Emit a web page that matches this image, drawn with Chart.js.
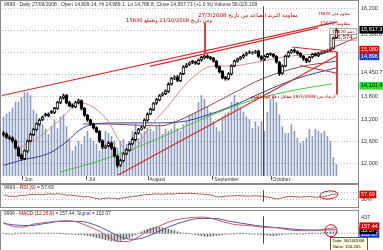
<!DOCTYPE html>
<html><head><meta charset="utf-8">
<script src="https://cdn.jsdelivr.net/npm/chart.js@4/dist/chart.umd.min.js"></script>
<style>
html,body{margin:0;padding:0;background:#fff;width:383px;height:250px;overflow:hidden;position:relative}
canvas{position:absolute;left:0}
</style></head><body>
<canvas id="main" width="383" height="184" style="top:0;width:383px;height:184px"></canvas>
<canvas id="rsi" width="383" height="24" style="top:184px;width:383px;height:24px"></canvas>
<canvas id="macd" width="383" height="40" style="top:210px;width:383px;height:40px"></canvas>
<script>
// ---------------- DATA ----------------
const monthTickIdx = [6.5, 27.8, 48.2, 69.8, 89.2];
const monthNames = ['Jun', 'Jul', 'August', 'September', 'October'];

const opens = [12820,12790,12700,12690,12610,12420,12220,12130,12330,12610,
12780,12920,13060,13190,13330,13290,13400,13380,13490,13650,
13770,13840,13650,13580,13530,13640,13700,13490,13300,13180,
13060,12970,12870,12610,12430,12480,12560,12420,12200,11950,
12070,12270,12360,12530,12640,12820,12930,12980,13170,13340,
13460,13640,13720,13850,13890,13950,14150,14310,14340,14240,
14430,14620,14680,14760,14750,14700,14800,14860,14910,14880,
14850,14770,14620,14490,14340,14290,14420,14640,14770,14830,
14880,14940,15020,14990,15010,15040,14890,14820,14890,14970,
14950,14900,14730,14440,14640,14900,15010,15070,15030,14980,
14900,14830,14760,14880,14960,14920,14980,15000,15040,15060,
15110,15400];
const highs = [12860,12830,12750,12720,12640,12450,12260,12370,12640,12820,
12950,13100,13210,13290,13360,13370,13430,13520,13680,13810,
13880,13860,13680,13610,13680,13740,13720,13510,13330,13200,
13090,12990,12890,12630,12500,12590,12580,12440,12220,12110,
12290,12400,12560,12690,12840,12950,13010,13210,13370,13500,
13650,13760,13860,13920,13990,14180,14330,14370,14380,14460,
14650,14700,14750,14790,14770,14830,14900,14930,14940,14900,
14870,14790,14640,14510,14360,14460,14670,14800,14850,14900,
14960,15010,15050,15030,15060,15070,14920,14930,14980,14990,
14970,14920,14760,14670,14930,15040,15090,15100,15050,15000,
14920,14850,14900,14980,14990,15010,15030,15060,15080,15140,
15420,15660];
const lows = [12740,12680,12640,12570,12390,12180,12090,12100,12300,12580,
12750,12890,13030,13160,13270,13260,13350,13350,13460,13620,
13740,13610,13530,13500,13500,13610,13450,13270,13140,13030,
12930,12830,12560,12400,12400,12450,12380,12170,11900,11920,
12040,12230,12330,12500,12610,12790,12900,12950,13140,13310,
13430,13600,13690,13820,13860,13920,14120,14270,14210,14210,
14400,14590,14650,14700,14680,14670,14770,14830,14840,14810,
14740,14580,14450,14290,14250,14260,14390,14610,14740,14800,
14850,14910,14970,14960,14980,14870,14790,14790,14860,14920,
14870,14710,14380,14410,14610,14870,14980,15000,14950,14870,
14790,14730,14740,14850,14900,14890,14950,14980,15010,15030,
15090,15380];
const closes = [12783,12705,12679,12600,12418,12209,12131,12339,12600,12783,
12914,13070,13175,13253,13305,13331,13383,13488,13644,13775,
13827,13644,13566,13540,13644,13697,13488,13305,13175,13070,
12966,12861,12600,12444,12470,12548,12418,12209,11948,12078,
12261,12365,12522,12653,12809,12914,12966,13175,13331,13462,
13618,13723,13827,13879,13958,14140,14297,14323,14245,14427,
14610,14662,14714,14741,14714,14793,14871,14897,14871,14845,
14767,14610,14480,14323,14297,14427,14636,14767,14819,14871,
14923,14975,15002,15002,15028,14897,14819,14897,14949,14949,
14897,14741,14427,14636,14897,15002,15054,15028,14975,14897,
14819,14767,14871,14949,14923,14975,15002,15028,15054,15106,
15393,15610];
// volume, millions
const volumes = [61,64,66,70,76,76,81,86,86,83,
68,64,59,53,48,43,51,58,49,61,
63,51,38,26,31,36,33,41,46,39,
36,33,26,38,46,44,41,36,29,36,
38,33,36,46,53,39,44,46,49,48,
46,51,53,43,48,46,48,56,49,46,
53,56,63,64,66,76,83,79,71,66,
56,50,46,61,64,66,76,83,76,70,
66,61,58,49,56,51,56,46,66,79,
84,76,63,51,44,44,53,46,39,34,
36,39,48,41,48,46,44,46,41,36,
19,12];

// moving averages: [dayIndex, value]
const maPink = [[5.5,12418],[12.2,12731],[18.8,13175],[25.5,13644],[28.2,13592],[32.2,13383],[35.5,13070],[38.2,12653],[41.2,12339],[43.8,12392],[48.8,12992],[54.5,13514],[58.8,13958],[63.8,14375],[69.8,14636],[75.5,14636],[84.5,14741],[94.5,14897],[102.2,14949],[110.8,15028]];
const maMaroon = [[26.5,13070],[32.2,13070],[42.2,13044],[52.2,13018],[58.8,13175],[65.5,13436],[75.5,13853],[86.5,14297],[98.8,14610],[110.8,14767]];
const maBlue = [[0,11948],[5.5,12078],[15.5,12287],[21.2,12600],[25.5,12914],[30.5,13070],[38.8,13096],[48.8,13096],[58.8,13122],[68.8,13331],[78.8,13644],[88.8,14010],[98.8,14323],[110.8,14584]];
const maGreen = [[18.8,11765],[32.2,12078],[45.5,12470],[55.5,12809],[65.5,13175],[82.2,13697],[98.8,14010],[109.5,14150]];

// drawn trend lines: [dayIndex, value]
const trendUpper1 = [[-0.5,13838],[111.2,15830]];
const trendUpper2 = [[48.8,14625],[104.8,15670]];
const trendSupport = [[38.2,11686],[111.2,14914]];
const trendTriangle = [[96.2,15150],[111.2,15019]];
const pointerA = [[98.8,14651],[111.2,14441]];
const pointerB = [[111.2,15019],[111.2,13864]];
const pointerC = [[67.2,15806],[67.2,14992]];
const pointerD = [[117.8,15412],[108.8,15097]];
const pointerGray = [[108.8,15490],[108.8,15097]];

const mainTickVals = [12000,12600,13200,13800,14450.7,15500.8,16200];
const mainTickLabels = ['12,000','12,600','13,200','13,800','14,450.7','15,500.8','16,200'];
const mainGridVals = [12000,12600,13200,13800,14400,15000,15600,16200];
const mainMarkVals = [15617.3,15080,14896,14101.4];
const mainMarkLabels = ['15,617.3','15,080','14,896','14,101.4'];

const rsiPts = [[0,56],[1,52],[2,46],[3,48],[4,44],[5,50],[6,53],[7,51],[8,55],[9,58],[10,57],[12,59],[13,56],[15,61],[17,59],[18,62],[20,58],[21,52],[22,55],[24,50],[26,46],[27,43],[28,45],[30,38],[32,30],[33,33],[35,37],[36,34],[37,36],[38,31],[39,35],[41,40],[43,45],[45,49],[47,56],[49,58],[51,61],[53,59],[55,62],[57,60],[58,64],[60,63],[62,65],[64,62],[66,60],[68,57],[69,55],[70,50],[71,45],[72,43],[74,47],[76,49],[78,51],[80,49],[82,48],[84,50],[86,47],[88,42],[89,40],[91,31],[92,33],[93,38],[95,46],[97,44],[99,42],[101,44],[102,46],[104,41],[106,43],[107,45],[108,50],[109,55],[110,60],[111,58]];
const rsiTickVals = [30];
const rsiTickLabels = ['30%'];
const rsiGridVals = [30,70];
const rsiMarkVals = [57.69];
const rsiMarkLabels = ['57.69'];

const macdPts = [[0,304],[2.2,209],[6.5,171],[9.8,247],[15.5,304],[21.2,342],[24.5,304],[27.8,209],[32.2,57],[35.5,-114],[38.8,-209],[41.2,-209],[44.5,-114],[47.8,57],[52.2,209],[56.5,342],[62.2,418],[66.5,437],[71.2,361],[76.5,247],[82.2,209],[86.5,171],[91.2,152],[95.5,95],[100.5,76],[105.5,95],[109.8,152],[111,157]];
const signalPts = [[0,266],[3.8,228],[8.8,209],[13.8,266],[19.5,323],[25.5,323],[30.5,228],[34.8,76],[38.8,-76],[43.2,-152],[47.2,-95],[51.2,38],[55.5,190],[60.5,323],[65.5,399],[70.5,399],[75.5,323],[81.5,247],[86.5,190],[92.2,152],[97.2,114],[102.2,95],[107.2,95],[111,102]];
const macdHist = [10,-8,-15,-12,5,15,20,18,12,8,15,20,18,12,10,8,12,15,10,5,0,-5,-10,-15,-20,-25,-30,-35,
-45,-60,-80,-100,-120,-140,-160,-175,-190,-200,-195,-180,-160,-130,-100,-70,
-30,10,50,80,110,140,160,170,165,150,130,110,90,70,50,30,15,
5,0,-10,-25,-40,-55,-65,-75,-70,-60,-50,-40,-30,-20,-15,-10,-5,0,5,5,
0,-5,-10,-15,-20,-25,-30,-40,-50,-55,-45,-35,-25,-15,-10,-5,0,-5,-10,
-5,0,5,5,10,15,20,25,35,45,50,55];
const macdTickVals = [437];
const macdTickLabels = ['437'];
const macdGridVals = [0];
const macdMarkVals = [195,90,-10];
const macdMarkLabels = ['157.44','55.37','102.07'];

const cursorIdx = 86.5;
const titleMain = '9999 - Daily 27/09/2008 : Open 14,809.14, Hi 14,989.1, Lo 14,788.8, Close 14,957.71 (+1.0 %) Volume 58,020,109';

const annTexts = [
  ['مقاومة الترند الصاعد من تاريخ 27/3/2008', 98.2, 16003, 100],
  ['ومن تاريخ 21/10/2008 وتقطع 15830', 69.5, 15858, 86],
  ['مقاوم على 15830', 115.5, 16042, 32],
  ['مقاومة 15670', 115.5, 15780, 30],
  ['ارتداد من 18/7/2008 مقابل دعم قوي القوي', 110.5, 13812, 85]
];
const annBoxes = [
  ['دعم 15620', 108.8, 15648, 117.8, 15490],
  ['15,574', 108.8, 15490, 117.8, 15334]
];

// ---------------- STYLE ----------------
const FONT = '"Liberation Sans", Arial, sans-serif';
const AR_FONT = '"DejaVu Sans", sans-serif';
const X_MIN = -0.5, X_MAX = 118.2;
const RED = '#d42a2a';
const mainMarkBg = ['#000000','#e00000','#1c3fc8','#2ee02e'];
const mainMarkFg = ['#ffffff','#ffffff','#ffffff','#000000'];
const macdMarkBg = ['#e00000','#000000','#1c3fc8'];

function fitText(ctx, segs, x, y, w, align, family, rtl) {
  const fam = family || FONT;
  ctx.save();
  ctx.direction = rtl ? 'rtl' : 'ltr';
  ctx.font = '10px ' + fam;
  let total = 0;
  for (const s of segs) total += ctx.measureText(s[0]).width;
  const size = 10 * w / total;
  ctx.font = size.toFixed(2) + 'px ' + fam;
  ctx.textBaseline = 'middle';
  if (segs.length === 1) {
    ctx.textAlign = align || 'left';
    ctx.fillStyle = segs[0][1];
    ctx.fillText(segs[0][0], x, y);
  } else {
    ctx.textAlign = 'left';
    let cx = x;
    for (const s of segs) { ctx.fillStyle = s[1]; ctx.fillText(s[0], cx, y); cx += ctx.measureText(s[0]).width; }
  }
  ctx.restore();
}
function drawCursor(chart) {
  const {ctx, chartArea: a, scales: {x}} = chart;
  const cx = Math.round(x.getPixelForValue(cursorIdx)) + 0.5;
  ctx.save(); ctx.strokeStyle = '#454545'; ctx.lineWidth = 1;
  ctx.beginPath(); ctx.moveTo(cx, a.top); ctx.lineTo(cx, a.bottom); ctx.stroke(); ctx.restore();
}
function frame(chart, top, bottom) {
  const ctx = chart.ctx;
  ctx.save(); ctx.strokeStyle = '#8a8a8a'; ctx.lineWidth = 1;
  ctx.strokeRect(0.5, top + 0.5, 358, bottom - top - 1); ctx.restore();
}
function yAxis(tickVals, tickLabels, gridVals, markVals, markLabels, markBg, markFg, min, max) {
  const all = Array.from(new Set([...tickVals, ...gridVals, ...markVals])).sort((a, b) => a - b);
  return {
    type: 'linear', position: 'right', min, max,
    afterFit: s => { s.width = 25; },
    afterBuildTicks: s => { s.ticks = all.map(v => ({value: v})); },
    grid: { drawTicks: false, lineWidth: 1,
      color: c => (c.tick && gridVals.includes(c.tick.value)) ? '#bcbcbc' : 'rgba(0,0,0,0)' },
    border: { display: false, dash: [1, 2] },
    ticks: {
      autoSkip: false, padding: 3, font: {size: 5.5, family: FONT},
      callback: v => { let k = markVals.indexOf(v); if (k >= 0) return markLabels[k]; k = tickVals.indexOf(v); return k >= 0 ? tickLabels[k] : ''; },
      color: c => { const k = markVals.indexOf(c.tick ? c.tick.value : NaN); return k >= 0 ? (markFg ? markFg[k] : '#ffffff') : '#333333'; },
      showLabelBackdrop: c => markVals.includes(c.tick ? c.tick.value : NaN),
      backdropColor: c => { const k = markVals.indexOf(c.tick ? c.tick.value : NaN); return k >= 0 ? markBg[k] : 'rgba(0,0,0,0)'; },
      backdropPadding: {x: 1.5, y: 0.5}
    }
  };
}
function lineDs(data, color, width, order, extra) {
  return Object.assign({type: 'line', data, borderColor: color, borderWidth: width, pointRadius: 0, fill: false, order, xAxisID: 'x', yAxisID: 'y'}, extra || {});
}
const baseOpts = {animation: false, responsive: false, maintainAspectRatio: false, events: [],
  plugins: {legend: {display: false}, tooltip: {enabled: false}}};

// ---------------- MAIN PANEL ----------------
const mainPlugin = {
  id: 'mainDecor',
  afterDatasetsDraw(chart) {
    const {ctx, scales: {x: xs, y: ys}} = chart;
    drawCursor(chart);
    ctx.save();
    for (const b of annBoxes) {
      const x1 = xs.getPixelForValue(b[1]), y1 = ys.getPixelForValue(b[2]);
      const x2 = xs.getPixelForValue(b[3]), y2 = ys.getPixelForValue(b[4]);
      ctx.strokeStyle = '#9a9a9a'; ctx.lineWidth = 0.8;
      ctx.strokeRect(x1, y1, x2 - x1, y2 - y1);
      const ar = /[\u0600-\u06FF]/.test(b[0]);
      fitText(ctx, [[b[0], '#a00000']], (x1 + x2) / 2, (y1 + y2) / 2, (x2 - x1) - (ar ? 4 : 8), 'center', ar ? AR_FONT : FONT, ar);
    }
    for (const t of annTexts) {
      fitText(ctx, [[t[0], '#c40000']], xs.getPixelForValue(t[1]), ys.getPixelForValue(t[2]), t[3], 'right', AR_FONT, true);
    }
    ctx.restore();
  },
  afterDraw(chart) {
    frame(chart, 0, 184);
    fitText(chart.ctx, [[titleMain, '#333333']], 4, 4.5, 254, 'left');
  }
};
new Chart(document.getElementById('main'), {
  type: 'bar',
  data: { datasets: [
    {label: 'Volume', data: volumes.map((v, i) => ({x: i, y: v})), yAxisID: 'yv', xAxisID: 'x', backgroundColor: '#8c9dbd', barThickness: 1, grouped: false, order: 10},
    lineDs(maGreen, '#4cc04c', 1, 6, {cubicInterpolationMode: 'monotone'}),
    lineDs(maBlue, '#33409a', 1, 6, {cubicInterpolationMode: 'monotone'}),
    lineDs(maMaroon, '#8a4a5a', 1, 6, {cubicInterpolationMode: 'monotone'}),
    lineDs(maPink, '#d09090', 1, 5, {cubicInterpolationMode: 'monotone'}),
    {label: 'Wick', data: closes.map((c, i) => ({x: i, y: [lows[i], highs[i]]})), yAxisID: 'y', xAxisID: 'x', backgroundColor: '#000000', barThickness: 1, grouped: false, order: 3},
    {label: 'Body', data: closes.map((c, i) => ({x: i, y: [opens[i], c]})), yAxisID: 'y', xAxisID: 'x',
      backgroundColor: c => closes[c.dataIndex] >= opens[c.dataIndex] ? '#ffffff' : '#000000',
      borderColor: '#000000', borderWidth: 1, borderSkipped: false, barThickness: 3, grouped: false, order: 2},
    lineDs(trendUpper1, RED, 1.2, 1),
    lineDs(trendUpper2, RED, 1.2, 1),
    lineDs(trendSupport, RED, 1.2, 1),
    lineDs(trendTriangle, RED, 1, 1),
    lineDs(pointerA, RED, 1, 1),
    lineDs(pointerB, RED, 1, 1),
    lineDs(pointerC, RED, 1, 1),
    lineDs(pointerD, RED, 1, 1),
    lineDs(pointerGray, '#8a8a8a', 1, 1)
  ]},
  options: Object.assign({}, baseOpts, {
    layout: {padding: {left: 2, right: 0, top: 1, bottom: 0}},
    scales: {
      x: { type: 'linear', min: X_MIN, max: X_MAX, offset: false,
        afterBuildTicks: s => { s.ticks = monthTickIdx.map(v => ({value: v})); },
        afterFit: s => { s.height = 8; },
        grid: {offset: false, drawOnChartArea: false, drawTicks: true, tickLength: 4, color: '#555555', tickColor: '#555555'},
        border: {display: false},
        ticks: { autoSkip: false, maxRotation: 0, minRotation: 0, align: 'start', labelOffset: 1.5, padding: -3,
          font: {size: 5, family: FONT}, color: '#333333',
          callback: v => { const k = monthTickIdx.indexOf(v); return k >= 0 ? monthNames[k] : ''; } } },
      y: yAxis(mainTickVals, mainTickLabels, mainGridVals, mainMarkVals, mainMarkLabels, mainMarkBg, mainMarkFg, 11660, 16252),
      yv: { type: 'linear', display: false, min: 0, max: 175, position: 'left' }
    }
  }),
  plugins: [mainPlugin]
});

// ---------------- RSI PANEL ----------------
const rsiPlugin = {
  id: 'rsiDecor',
  afterDatasetsDraw(chart) {
    const {ctx, scales: {x: xs, y: ys}} = chart;
    drawCursor(chart);
    ctx.save(); ctx.strokeStyle = '#d01010'; ctx.lineWidth = 1;
    ctx.beginPath(); ctx.ellipse(xs.getPixelForValue(108.5), ys.getPixelForValue(54.6), 9, 4, -0.1, 0, Math.PI * 2); ctx.stroke();
    ctx.restore();
  },
  afterDraw(chart) {
    frame(chart, 0, 24);
    fitText(chart.ctx, [['9999 - ', '#333333'], ['RSI (9)', '#c40000'], [' = 57.69', '#333333']], 4, 3.2, 50);
  }
};
new Chart(document.getElementById('rsi'), {
  type: 'line',
  data: {datasets: [{data: rsiPts, borderColor: '#b45858', borderWidth: 1, pointRadius: 0, tension: 0, fill: false}]},
  options: Object.assign({}, baseOpts, {
    layout: {padding: {left: 2, right: 0, top: 1, bottom: 1}},
    scales: {
      x: {type: 'linear', min: X_MIN, max: X_MAX, display: false},
      y: yAxis(rsiTickVals, rsiTickLabels, rsiGridVals, rsiMarkVals, rsiMarkLabels, ['#e00000'], ['#ffffff'], 14.6, 82.4)
    }
  }),
  plugins: [rsiPlugin]
});

// ---------------- MACD PANEL ----------------
const macdPlugin = {
  id: 'macdDecor',
  afterDatasetsDraw(chart) {
    const {ctx, scales: {x: xs, y: ys}} = chart;
    drawCursor(chart);
    ctx.save(); ctx.strokeStyle = '#d01010'; ctx.lineWidth = 1;
    ctx.beginPath(); ctx.arc(xs.getPixelForValue(109.2), ys.getPixelForValue(76), 6, 0, Math.PI * 2); ctx.stroke();
    ctx.restore();
  },
  afterDraw(chart) {
    const ctx = chart.ctx;
    frame(chart, 0, 41);
    fitText(ctx, [['9999 - ', '#333333'], ['MACD (12,26,9)', '#c40000'], [' = 157.44, ', '#333333'], ['Signal', '#3040a0'], [' = 102.07', '#333333']], 4, 3.2, 107);
    ctx.save();
    ctx.fillStyle = '#ffffe1'; ctx.fillRect(330.5, 27.5, 37, 13);
    ctx.strokeStyle = '#333333'; ctx.lineWidth = 0.8; ctx.strokeRect(330.5, 27.5, 37, 13);
    ctx.restore();
    fitText(ctx, [['Date: 30/10/2008', '#000000']], 332.5, 31.3, 32);
    fitText(ctx, [['Value: 156.205', '#000000']], 332.5, 37, 28);
  }
};
new Chart(document.getElementById('macd'), {
  type: 'bar',
  data: {datasets: [
    {data: macdHist.map((h, i) => ({x: i, y: h})), backgroundColor: '#6a6a6a', barThickness: 1, grouped: false, order: 5, xAxisID: 'x', yAxisID: 'y'},
    lineDs(signalPts, '#5058a8', 1, 2, {cubicInterpolationMode: 'monotone'}),
    lineDs(macdPts, '#c25a6c', 1, 1, {cubicInterpolationMode: 'monotone'})
  ]},
  options: Object.assign({}, baseOpts, {
    layout: {padding: {left: 2, right: 0, top: 2, bottom: 0}},
    scales: {
      x: {type: 'linear', min: X_MIN, max: X_MAX, display: false, offset: false, grid: {offset: false}},
      y: yAxis(macdTickVals, macdTickLabels, macdGridVals, macdMarkVals, macdMarkLabels, macdMarkBg, null, -266, 456)
    }
  }),
  plugins: [macdPlugin]
});
</script>
</body></html>
